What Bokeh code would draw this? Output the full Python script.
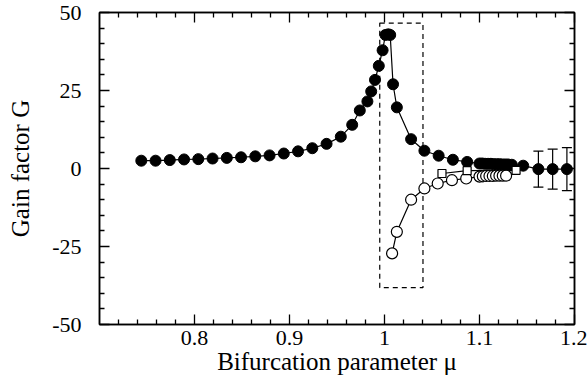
from bokeh.plotting import figure
from bokeh.models import (LinearAxis, FixedTicker, Whisker, TeeHead, ColumnDataSource,
                          Range1d, CustomJSTickFormatter)
from bokeh.embed import file_html
from bokeh.resources import INLINE

# ---- data ----
# upper branch (filled circles)
mu_upper = [0.744, 0.759, 0.774, 0.789, 0.804, 0.819, 0.834, 0.849, 0.864, 0.879,
            0.894, 0.909, 0.924, 0.939, 0.954, 0.966, 0.974, 0.982, 0.986, 0.990,
            0.994, 0.998, 1.001, 1.004, 1.006, 1.009, 1.013, 1.028, 1.042, 1.057,
            1.072, 1.087, 1.100, 1.103, 1.106, 1.109, 1.112, 1.115, 1.118, 1.121,
            1.124, 1.127, 1.130, 1.134, 1.146, 1.162, 1.177, 1.192]
g_upper = [2.5, 2.5, 2.7, 2.9, 3.0, 3.2, 3.4, 3.6, 3.9, 4.2,
           4.8, 5.5, 6.5, 7.9, 10.2, 14.0, 18.6, 21.5, 24.7, 28.4,
           32.9, 37.9, 42.8, 43.0, 42.8, 27.0, 19.6, 9.4, 5.7, 4.1,
           2.8, 2.1, 1.6, 1.6, 1.5, 1.5, 1.5, 1.4, 1.4, 1.4,
           1.3, 1.3, 1.3, 1.2, 0.9, -0.2, -0.2, -0.2]

# points with error bars
mu_err = [1.162, 1.177, 1.192]
g_err = [-0.2, -0.2, -0.2]
err = [5.8, 6.4, 6.9]

# lower branch (open circles)
mu_lower = [1.008, 1.013, 1.028, 1.042, 1.056, 1.071, 1.086, 1.100,
            1.1035, 1.107, 1.1105, 1.114, 1.1175, 1.121, 1.1245, 1.128]
g_lower = [-27.2, -20.3, -10.0, -6.4, -4.8, -3.75, -3.2, -2.6,
           -2.5, -2.4, -2.4, -2.4, -2.3, -2.3, -2.3, -2.3]

# squares
mu_sq = [1.0605, 1.087, 1.1385]
g_sq = [-1.6, -0.7, -0.6]

# dashed box
box_left, box_right, box_bottom, box_top = 0.995, 1.0405, -38.2, 46.6

x_ticks = [0.8, 0.9, 1.0, 1.1, 1.2]
x_labels = ["0.8", "0.9", "1", "1.1", "1.2"]
x_minor = [0.72, 0.74, 0.76, 0.78, 0.82, 0.84, 0.86, 0.88, 0.92, 0.94, 0.96, 0.98,
           1.02, 1.04, 1.06, 1.08, 1.12, 1.14, 1.16, 1.18]
y_ticks = [-50, -25, 0, 25, 50]
y_labels = ["-50", "-25", "0", "25", "50"]
y_minor = [-45, -40, -35, -30, -20, -15, -10, -5, 5, 10, 15, 20, 30, 35, 40, 45]

FONT = "Liberation Serif"

p = figure(width=587, height=381, output_backend="svg", toolbar_location=None,
           x_range=Range1d(0.7, 1.2), y_range=Range1d(-50, 50),
           min_border_left=99, min_border_right=13, min_border_top=12, min_border_bottom=57,
           x_axis_label="Bifurcation parameter \u03bc", y_axis_label="Gain factor G")
p.background_fill_color = "white"
p.border_fill_color = "white"
p.grid.visible = False
p.outline_line_color = "black"
p.outline_line_width = 1.5

def style(ax, ticker):
    ax.ticker = ticker
    ax.axis_line_color = "black"
    ax.axis_line_width = 1.5
    ax.major_tick_in = 10
    ax.major_tick_out = 0
    ax.minor_tick_in = 5
    ax.minor_tick_out = 0
    ax.major_tick_line_color = "black"
    ax.minor_tick_line_color = "black"
    ax.major_tick_line_width = 1.3
    ax.minor_tick_line_width = 1.3
    ax.major_label_text_font = FONT
    ax.major_label_text_font_size = "22px"
    ax.major_label_text_color = "black"
    ax.axis_label_text_font = FONT
    ax.axis_label_text_font_size = "25px"
    ax.axis_label_text_font_style = "normal"
    ax.axis_label_text_color = "black"

xa = p.xaxis[0]
ya = p.yaxis[0]
style(xa, FixedTicker(ticks=x_ticks, minor_ticks=x_minor))
style(ya, FixedTicker(ticks=y_ticks, minor_ticks=y_minor))
xa.major_label_overrides = {t: s for t, s in zip(x_ticks, x_labels)}
ya.major_label_overrides = {t: s for t, s in zip(y_ticks, y_labels)}
xa.major_label_standoff = 6
xa.axis_label_standoff = 0
ya.major_label_standoff = 18
ya.axis_label_standoff = 15

# mirrored tick marks on top and right, without labels
blank = CustomJSTickFormatter(code="return '';")
top = LinearAxis()
style(top, FixedTicker(ticks=x_ticks, minor_ticks=x_minor))
top.formatter = blank
top.major_label_standoff = 0
right = LinearAxis()
style(right, FixedTicker(ticks=y_ticks, minor_ticks=y_minor))
right.formatter = blank
right.major_label_standoff = 0
p.add_layout(top, "above")
p.add_layout(right, "right")

# dashed box
p.quad(left=[box_left], right=[box_right], bottom=[box_bottom], top=[box_top],
       fill_color=None, line_color="black", line_width=1.2, line_dash="5 4")

# lines
p.line(mu_upper, g_upper, line_color="black", line_width=1.2)
p.line(mu_lower, g_lower, line_color="black", line_width=1.2)
p.line(mu_sq, g_sq, line_color="black", line_width=1.2)

# error bars
src = ColumnDataSource(dict(x=mu_err, lo=[g - e for g, e in zip(g_err, err)],
                            hi=[g + e for g, e in zip(g_err, err)]))
wh = Whisker(source=src, base="x", lower="lo", upper="hi", line_color="black", line_width=1.2,
             upper_head=TeeHead(size=10, line_color="black", line_width=1.2),
             lower_head=TeeHead(size=10, line_color="black", line_width=1.2))
p.add_layout(wh)

# markers
p.scatter(mu_upper, g_upper, marker="circle", size=11, fill_color="black", line_color="black")
p.scatter(mu_lower, g_lower, marker="circle", size=11, fill_color="white", line_color="black", line_width=1.2)
p.scatter(mu_sq, g_sq, marker="square", size=8, fill_color="white", line_color="black", line_width=1.2)

open("out.html", "w").write(file_html(p, INLINE))
